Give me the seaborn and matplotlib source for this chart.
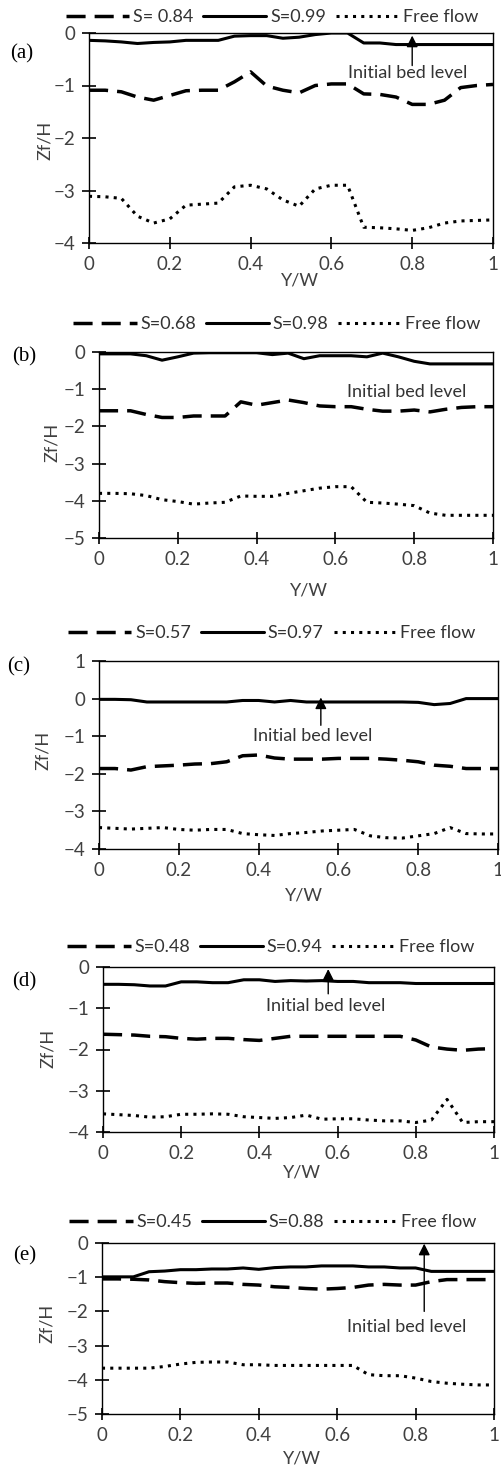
import matplotlib
matplotlib.use("Agg")
import matplotlib.pyplot as plt
from matplotlib.lines import Line2D
import seaborn as sns

sns.set_theme(style="white")
plt.rcParams['font.family'] = ['Lato', 'DejaVu Sans']

# lateral position Y/W
y_w = [0, 0.04, 0.08, 0.12, 0.16, 0.2, 0.24, 0.28, 0.32, 0.36, 0.4, 0.44, 0.48,
       0.52, 0.56, 0.6, 0.64, 0.68, 0.72, 0.76, 0.8, 0.84, 0.88, 0.92, 0.96, 1.0]

# (a)
a_dash = [-1.09, -1.09, -1.12, -1.22, -1.28, -1.19, -1.1, -1.09, -1.09, -0.93, -0.74, -1.01, -1.09,
          -1.14, -1.0, -0.97, -0.97, -1.16, -1.17, -1.22, -1.36, -1.36, -1.28, -1.04, -1.0, -0.98]
a_solid = [-0.14, -0.15, -0.17, -0.2, -0.18, -0.17, -0.14, -0.14, -0.14, -0.06, -0.05, -0.05, -0.1,
           -0.08, -0.03, 0, 0, -0.19, -0.19, -0.22, -0.22, -0.22, -0.22, -0.22, -0.22, -0.22]
a_free = [-3.11, -3.12, -3.15, -3.49, -3.62, -3.54, -3.28, -3.26, -3.24, -2.93, -2.9, -2.97, -3.18,
          -3.3, -2.97, -2.9, -2.9, -3.7, -3.71, -3.73, -3.76, -3.71, -3.62, -3.58, -3.57, -3.56]

# (b)
b_dash = [-1.58, -1.58, -1.58, -1.68, -1.76, -1.76, -1.72, -1.72, -1.72, -1.34, -1.43, -1.36, -1.29,
          -1.36, -1.45, -1.47, -1.47, -1.54, -1.59, -1.59, -1.56, -1.61, -1.54, -1.49, -1.47, -1.47]
b_solid = [-0.05, -0.05, -0.05, -0.1, -0.22, -0.13, -0.03, -0.02, -0.02, -0.02, -0.02, -0.07, -0.03,
           -0.18, -0.1, -0.1, -0.1, -0.13, -0.03, -0.13, -0.25, -0.32, -0.32, -0.32, -0.32, -0.32]
b_free = [-3.8, -3.8, -3.81, -3.86, -3.97, -4.02, -4.09, -4.06, -4.04, -3.87, -3.88, -3.88, -3.8,
          -3.73, -3.66, -3.62, -3.62, -4.04, -4.06, -4.09, -4.13, -4.33, -4.39, -4.39, -4.39, -4.39]

# (c)
c_dash = [-1.86, -1.86, -1.9, -1.81, -1.79, -1.77, -1.74, -1.73, -1.68, -1.52, -1.5, -1.58, -1.61,
          -1.61, -1.61, -1.59, -1.59, -1.59, -1.61, -1.64, -1.68, -1.77, -1.8, -1.86, -1.86, -1.86]
c_solid = [-0.02, -0.02, -0.03, -0.09, -0.09, -0.09, -0.09, -0.09, -0.09, -0.05, -0.05, -0.09, -0.05,
           -0.09, -0.09, -0.09, -0.09, -0.09, -0.09, -0.09, -0.1, -0.16, -0.13, 0, 0, 0]
c_free = [-3.43, -3.45, -3.47, -3.45, -3.43, -3.48, -3.5, -3.48, -3.48, -3.59, -3.62, -3.64, -3.59,
          -3.56, -3.52, -3.5, -3.48, -3.65, -3.7, -3.71, -3.65, -3.59, -3.43, -3.59, -3.6, -3.6]

# (d)
d_dash = [-1.63, -1.64, -1.65, -1.68, -1.69, -1.73, -1.75, -1.73, -1.73, -1.76, -1.78, -1.73, -1.68,
          -1.68, -1.68, -1.68, -1.68, -1.68, -1.68, -1.68, -1.77, -1.94, -1.99, -2.02, -1.99, -1.98]
d_solid = [-0.42, -0.42, -0.43, -0.46, -0.46, -0.36, -0.36, -0.38, -0.38, -0.31, -0.31, -0.35, -0.33,
           -0.34, -0.33, -0.35, -0.35, -0.38, -0.38, -0.38, -0.4, -0.4, -0.4, -0.4, -0.4, -0.4]
d_free = [-3.56, -3.58, -3.6, -3.64, -3.63, -3.57, -3.57, -3.56, -3.57, -3.63, -3.65, -3.67, -3.65,
          -3.59, -3.69, -3.68, -3.68, -3.71, -3.73, -3.73, -3.77, -3.71, -3.21, -3.77, -3.75, -3.75]

# (e)
e_dash = [-1.05, -1.05, -1.06, -1.08, -1.13, -1.16, -1.18, -1.17, -1.17, -1.21, -1.23, -1.28, -1.3,
          -1.33, -1.35, -1.33, -1.3, -1.23, -1.21, -1.23, -1.23, -1.13, -1.07, -1.07, -1.07, -1.07]
e_solid = [-0.99, -0.99, -0.99, -0.84, -0.82, -0.78, -0.78, -0.76, -0.76, -0.73, -0.77, -0.72, -0.7,
           -0.7, -0.67, -0.67, -0.67, -0.7, -0.7, -0.73, -0.73, -0.83, -0.83, -0.83, -0.83, -0.83]
e_free = [-3.66, -3.66, -3.66, -3.66, -3.61, -3.54, -3.49, -3.48, -3.48, -3.56, -3.56, -3.58, -3.58,
          -3.58, -3.58, -3.58, -3.58, -3.85, -3.88, -3.88, -3.95, -4.05, -4.1, -4.13, -4.15, -4.15]

panel_tags = ['(a)', '(b)', '(c)', '(d)', '(e)']
dash_labels = ['S= 0.84', 'S=0.68', 'S=0.57', 'S=0.48', 'S=0.45']
solid_labels = ['S=0.99', 'S=0.98', 'S=0.97', 'S=0.94', 'S=0.88']
free_label = 'Free flow'
y_limits = [(-4, 0), (-5, 0), (-4, 1), (-4, 0), (-5, 0)]

# "Initial bed level" arrows
arrow_x = [0.8, 0.858, 0.556, 0.576, 0.822]
arrow_tip = [-0.05, 0.03, 0.03, -0.05, -0.02]
arrow_tail = [-0.62, -0.8, -0.71, -0.65, -2.0]
note_x = [0.79, 0.78, 0.536, 0.57, 0.776]
note_y = [-0.76, -1.07, -0.99, -0.95, -2.47]

series = [(a_dash, a_solid, a_free), (b_dash, b_solid, b_free), (c_dash, c_solid, c_free),
          (d_dash, d_solid, d_free), (e_dash, e_solid, e_free)]

W, H = 502, 1470
# axes boxes in pixels: left, right, top, bottom
boxes = [(89, 493, 33, 243), (99, 493, 352, 538), (99, 498, 661, 849),
         (103, 494, 967, 1132), (102, 494, 1243, 1414)]
legend_xy = [(272, 17), (277, 324), (272, 633), (271, 947), (273, 1222)]
tag_xy = [(22, 54), (24, 357), (19, 667), (24, 982), (25, 1256)]
xlab_xy = [(300, 280), (309, 590), (304, 895), (302, 1173), (302, 1458)]
ylab_xy = [(45, 140), (52, 442), (43, 750), (48, 1048), (47, 1323)]

dash_style = dict(color='black', lw=2.5, linestyle=(0, (5.5, 2.6)))
solid_style = dict(color='black', lw=2.2, linestyle='-')
free_style = dict(color='black', lw=2.2, linestyle=(0, (1, 1.7)))
tick_col = '#404040'
fs = 13

fig = plt.figure(figsize=(W / 100, H / 100), dpi=100)

for i, (dash, solid, free) in enumerate(series):
    l, r, t, b = boxes[i]
    ax = fig.add_axes([l / W, 1 - b / H, (r - l) / W, (b - t) / H])
    sns.lineplot(x=y_w, y=free, ax=ax, **free_style)
    sns.lineplot(x=y_w, y=dash, ax=ax, **dash_style)
    sns.lineplot(x=y_w, y=solid, ax=ax, **solid_style)

    ax.set_xlim(0, 1)
    ax.set_ylim(*y_limits[i])
    ax.set_xticks([0, 0.2, 0.4, 0.6, 0.8, 1.0])
    ax.set_xticklabels(['0', '0.2', '0.4', '0.6', '0.8', '1'])
    ax.set_yticks(range(y_limits[i][0], y_limits[i][1] + 1))
    for s in ax.spines.values():
        s.set_color('black')
        s.set_linewidth(1.0)
    ax.tick_params(axis='x', direction='inout', length=9, width=1.2, color='black',
                   labelcolor=tick_col, labelsize=13.5, pad=5, bottom=True)
    ax.tick_params(axis='y', direction='inout', length=10, width=1.2, color='black',
                   labelcolor=tick_col, labelsize=13.5, pad=5, left=True)

    ax.set_xlabel('Y/W', fontsize=fs, color=tick_col)
    ax.set_ylabel('Zf/H', fontsize=fs, color=tick_col)
    xl, yl = xlab_xy[i]
    ax.xaxis.set_label_coords((xl - l) / (r - l), -(yl - b) / (b - t))
    ax.xaxis.label.set_va('center')
    xl, yl = ylab_xy[i]
    ax.yaxis.set_label_coords((xl - l) / (r - l), (b - yl) / (b - t))
    ax.yaxis.label.set_va('center')

    ax.annotate('', xy=(arrow_x[i], arrow_tip[i]), xytext=(arrow_x[i], arrow_tail[i]),
                arrowprops=dict(arrowstyle='-|>', color='black', lw=1.0,
                                mutation_scale=17, shrinkA=0, shrinkB=0))
    ax.text(note_x[i], note_y[i], 'Initial bed level', ha='center', va='center',
            fontsize=fs, color='#333333')

    handles = [Line2D([], [], **dash_style), Line2D([], [], **solid_style),
               Line2D([], [], **free_style)]
    lx, ly = legend_xy[i]
    ax.legend(handles, [dash_labels[i], solid_labels[i], free_label], ncol=3,
              loc='center', bbox_to_anchor=(lx / W, 1 - ly / H), bbox_transform=fig.transFigure,
              frameon=False, fontsize=fs, handlelength=3.5, handletextpad=0.2,
              columnspacing=0.55, labelcolor='#333333', borderpad=0, borderaxespad=0)

    tx, ty = tag_xy[i]
    fig.text(tx / W, 1 - ty / H, panel_tags[i], ha='center', va='center',
             fontsize=15, family='Liberation Serif', color='black')

fig.savefig('out.png', dpi=100)
